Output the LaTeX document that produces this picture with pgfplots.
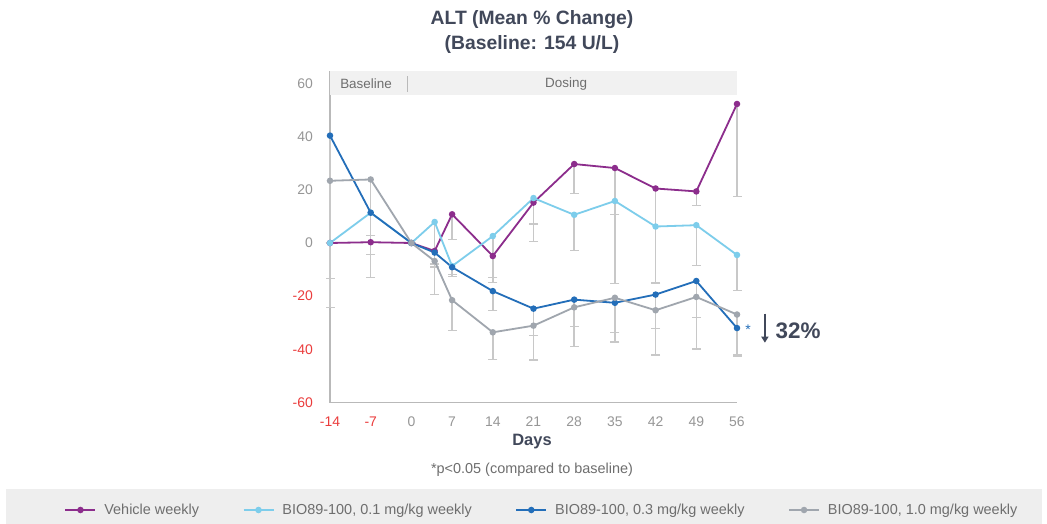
\documentclass[border=0pt]{standalone}
\usepackage{pgfplots}
\pgfplotsset{compat=1.18}
\usepackage{pgfplotstable}
\usepackage{fontspec}
\setmainfont{Liberation Sans}
\usetikzlibrary{arrows.meta}

\definecolor{vehicle}{RGB}{140,45,140}
\definecolor{lowdose}{RGB}{125,205,235}
\definecolor{middose}{RGB}{35,110,185}
\definecolor{highdose}{RGB}{160,166,174}
\definecolor{errgray}{RGB}{200,200,200}
\definecolor{axisgray}{RGB}{185,185,185}
\definecolor{bandgray}{RGB}{241,241,241}
\definecolor{legendband}{RGB}{238,238,238}
\definecolor{slate}{RGB}{65,72,90}
\definecolor{tickgray}{RGB}{150,150,150}
\definecolor{tickred}{RGB}{235,60,60}
\definecolor{notegray}{RGB}{110,110,110}

% day, mean % change, lower error
\pgfplotstableread{
d v e
-14 0 0
-7 0.3 4.6
0 0 0
4 -3 5
7 10.8 9.6
14 -4.9 9.9
21 15.2 8
28 29.7 11.1
35 28.2 17.4
42 20.5 35.5
49 19.4 5.2
56 52.3 34.8
}\vehicletab
\pgfplotstableread{
d v e
-14 0 0
-7 11.4 8.6
0 0 0
4 7.9 15.8
7 -8.7 3.2
14 2.6 15.5
21 16.9 16.3
28 10.6 13.4
35 15.8 31
42 6.2 21.2
49 6.7 15.2
56 -4.5 13.4
}\lowtab
\pgfplotstableread{
d v e
-14 40.4 53.8
-7 11.4 8.6
0 0 0
4 -3.6 5.4
7 -9.1 3.4
14 -18.1 7.4
21 -24.7 10.2
28 -21.3 10.2
35 -22.5 11.2
42 -19.4 12.7
49 -14.3 13.7
56 -32 10.5
}\midtab
\pgfplotstableread{
d v e
-14 23.4 47.7
-7 23.9 36.8
0 0 0
4 -6.8 12.6
7 -21.5 11.3
14 -33.6 10.1
21 -31.1 12.9
28 -24.2 14.8
35 -20.6 16.6
42 -25.3 16.8
49 -20.3 19.6
56 -26.9 15.1
}\hightab

\begin{document}
\begin{tikzpicture}
% canvas and legend strip
\fill[white] (0bp,0bp) rectangle (1047bp,524bp);
\fill[legendband] (6bp,0bp) rectangle (1042bp,34.7bp);

\begin{axis}[
  at={(330bp,121.5bp)}, anchor=south west,
  scale only axis, width=407bp, height=331.5bp,
  xmin=-14, xmax=56, ymin=-60, ymax=64.7,
  clip=false,
  axis x line*=bottom, axis y line*=left,
  axis line style={draw=axisgray, line width=1.3bp},
  major tick length=0pt,
  xtick={-14,-7,0,7,14,21,28,35,42,49,56},
  xticklabels={\textcolor{tickred}{-14},\textcolor{tickred}{-7},0,7,14,21,28,35,42,49,56},
  ytick={-60,-40,-20,0,20,40,60},
  yticklabels={\textcolor{tickred}{-60},\textcolor{tickred}{-40},\textcolor{tickred}{-20},0,20,40,60},
  tick label style={font=\fontsize{14}{16}\selectfont, text=tickgray, inner sep=0pt},
  xticklabel style={anchor=base, yshift=-23.5bp},
  yticklabel style={anchor=east, xshift=-17bp},
  legend columns=4,
  legend style={at={(0.5209,-0.3243)}, anchor=center, draw=none, fill=none,
    font=\fontsize{14.5}{16}\selectfont, text=notegray, inner sep=0pt,
    /tikz/every odd column/.append style={column sep=6bp},
    /tikz/every even column/.append style={column sep=41.5bp}},
  legend image code/.code={\draw[mark repeat=2, mark phase=2, #1]
    plot coordinates {(0bp,0bp) (15bp,0bp) (30bp,0bp)};},
  every axis plot/.append style={line width=1.8bp, mark=*, mark size=2.3bp,
    mark options={solid}},
]
% Baseline / Dosing band
\fill[bandgray] (axis cs:-14,55.6) rectangle (axis cs:56,64.7);
\draw[axisgray, line width=1.5bp] (axis cs:-0.64,56.9) -- (axis cs:-0.64,62.8);
\node[font=\fontsize{13.5}{15}\selectfont, text=notegray] at (axis cs:-7.8,59.8) {Baseline};
\node[font=\fontsize{13.5}{15}\selectfont, text=notegray] at (axis cs:26.6,59.8) {Dosing};

% lower error bars, drawn beneath the lines
\pgfplotsset{errstyle/.style={draw=none, mark=none, forget plot,
  error bars/.cd, y dir=minus, y explicit,
  error bar style={draw=errgray, line width=1.5bp},
  error mark options={rotate=90, mark size=4.5bp, line width=1.3bp, draw=errgray}}}
\addplot[errstyle] table[x=d, y=v, y error minus=e] {\vehicletab};
\addplot[errstyle] table[x=d, y=v, y error minus=e] {\lowtab};
\addplot[errstyle] table[x=d, y=v, y error minus=e] {\midtab};
\addplot[errstyle] table[x=d, y=v, y error minus=e] {\hightab};

% group means
\addplot[color=vehicle] table[x=d, y=v] {\vehicletab};
\addlegendentry{Vehicle weekly}
\addplot[color=lowdose] table[x=d, y=v] {\lowtab};
\addlegendentry{BIO89-100, 0.1 mg/kg weekly}
\addplot[color=middose] table[x=d, y=v] {\midtab};
\addlegendentry{BIO89-100, 0.3 mg/kg weekly}
\addplot[color=highdose] table[x=d, y=v] {\hightab};
\addlegendentry{BIO89-100, 1.0 mg/kg weekly}

% significance note at day 56
\node[font=\fontsize{14}{16}\selectfont, text=middose] at (axis cs:57.9,-32.6) {*};
\draw[slate, line width=1.4bp, -{Triangle[length=6bp, width=7bp]}] (axis cs:60.8,-26.6) -- (axis cs:60.8,-37.5);
\node[anchor=west, inner sep=0pt, font=\bfseries\fontsize{22.5}{24}\selectfont, text=slate] at (axis cs:62.6,-33) {32\%};
\end{axis}

% titles and notes
\node[anchor=base, font=\bfseries\fontsize{19.4}{21}\selectfont, text=slate] at (532bp,499bp) {ALT (Mean \% Change)};
\node[anchor=base, font=\bfseries\fontsize{19.4}{21}\selectfont, text=slate] at (532bp,474bp) {(Baseline: 154 U/L)};
\node[anchor=base, font=\bfseries\fontsize{16.5}{18}\selectfont, text=slate] at (532bp,78bp) {Days};
\node[anchor=base, font=\fontsize{14.5}{16}\selectfont, text=notegray] at (532bp,50bp) {*p<0.05 (compared to baseline)};
\end{tikzpicture}
\end{document}
